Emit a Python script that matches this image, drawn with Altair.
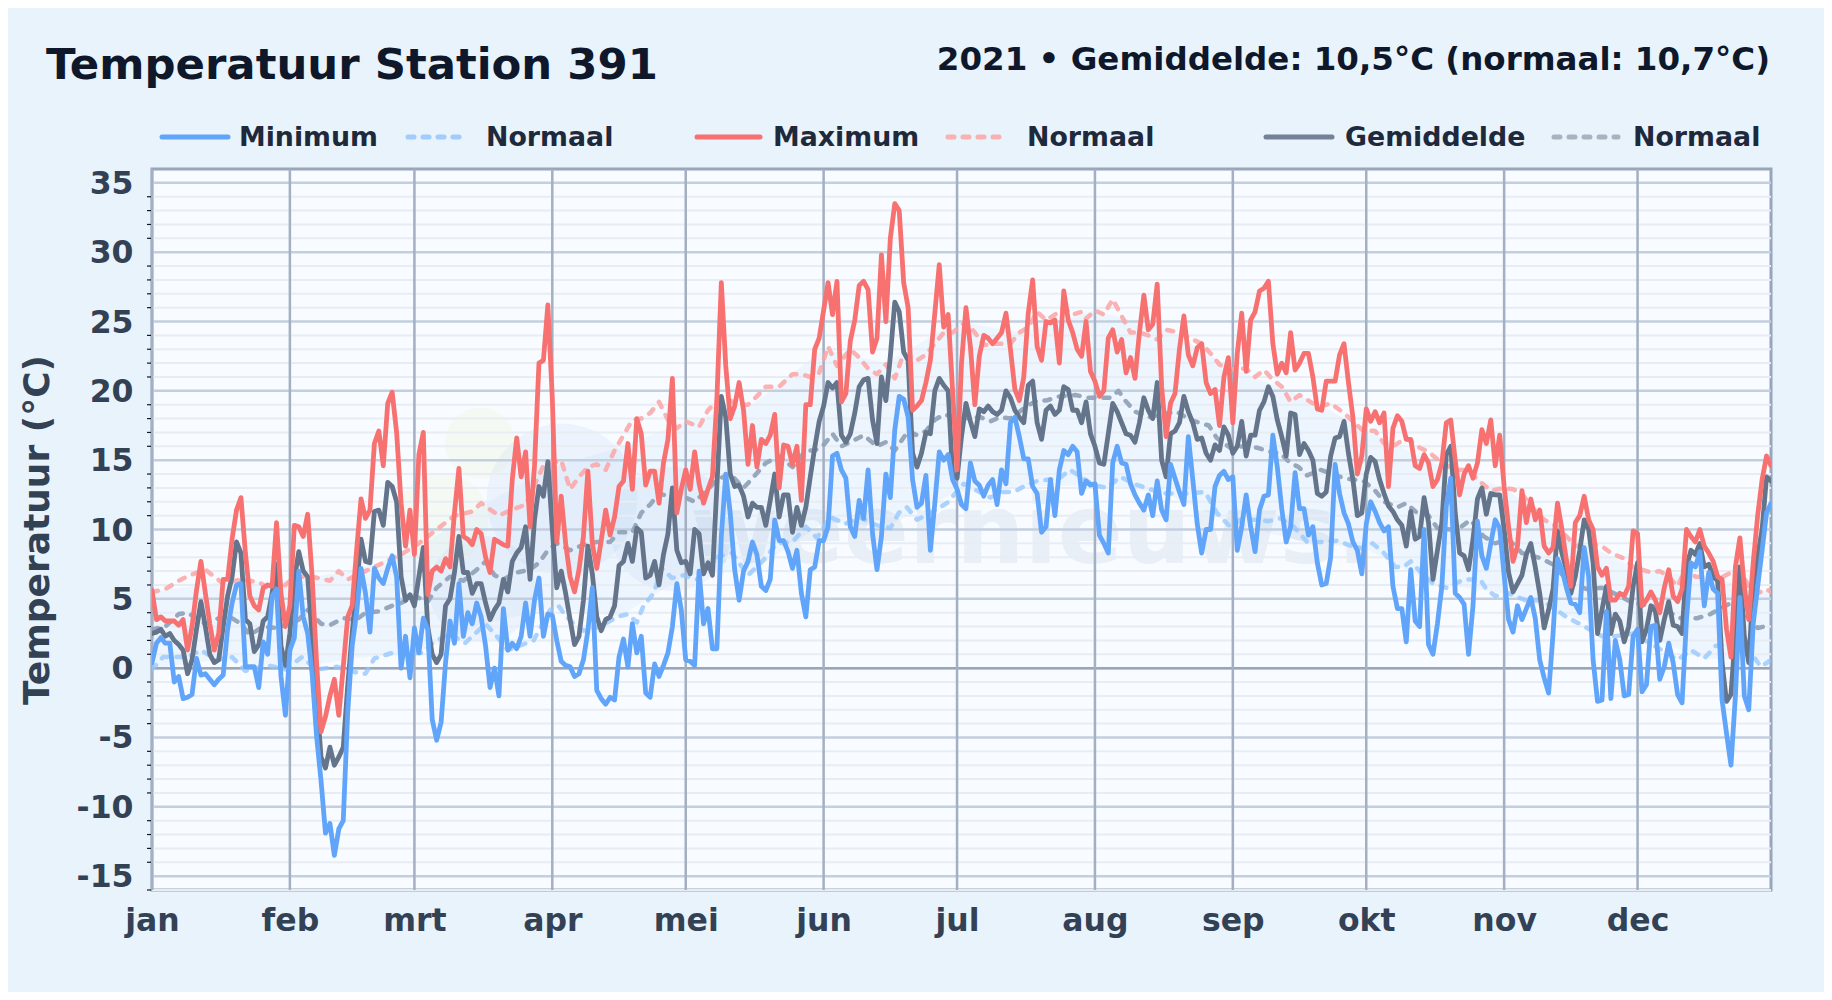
import altair as alt
import pandas as pd

# ---------- labels ----------
month_starts = [0, 31, 59, 90, 120, 151, 181, 212, 243, 273, 304, 334]
month_names = ["jan", "feb", "mrt", "apr", "mei", "jun", "jul", "aug", "sep", "okt", "nov", "dec"]
major_ticks = [-15, -10, -5, 0, 5, 10, 15, 20, 25, 30, 35]
minor_ticks = [v for v in range(-16, 36) if v % 5 != 0]

# ---------- daily series ----------
t_max = [
5.6,3.5,3.7,3.4,3.4,3.4,3.1,3.5,1.3,3,5.6,7.7,5.4,3.2,1.3,2.5,6.4,6.4,9.3,11.4,12.3,8.3,5.2,4.5,4.2,5.8,6,5.9,10.5,5.4,3,
4.5,10.3,10.2,9.5,11.1,6.6,0.4,-4.6,-3.5,-2,-0.8,-3.4,0.1,3.7,4.5,8.5,12.2,10.8,11.4,16.2,17.1,14.6,19.1,19.9,17,11.9,8.8,11.4,
8.2,15.4,17,5.3,7,7.3,7,7.9,7.3,11.2,14.4,9.5,9.3,8.9,10,9.7,8,6.9,9.3,9.1,8.9,8.8,13.6,16.6,13.8,15.6,10.2,14.6,22,22.2,26.2,
19.5,9.1,12.4,9,6.6,5.5,7.1,9.5,14.2,9,7.2,9.2,11.4,9.6,10.9,13.1,13.5,16.2,12.9,18,16.9,13.2,14.2,14.2,11.9,14.8,16.5,20.9,11.2,12.9,
14.3,12.9,15.6,13.3,11.9,12.9,13.8,19.4,27.8,21.8,18,18.9,20.6,18.6,14.7,17.5,14.5,16.5,16.2,16.8,18.3,13,16.1,16,14.7,16,12.1,19,19,23,23.8,
25.8,27.8,25.5,27.9,19.2,19.8,23.6,25.1,27.6,27.9,27.3,22.8,23.8,29.8,25,31,33.5,33,27.8,26,18.6,18.9,19.3,20.6,22.2,25.6,29.1,24.6,25.5,20,
14.3,22,26,23.2,19,22.5,24,23.8,23.4,23.8,24.2,25.6,23,20.1,19.3,21,25.6,28,23.2,22.2,25,24.9,25.1,22,27.2,25.1,24.2,23,22.5,25,21.4,
20.7,19.6,20,23.8,24.4,22.8,23.7,21.3,22.4,20.9,24.2,26.9,24.4,24.8,27.7,20.3,16.7,19.1,19.8,23,25.4,22.6,21.8,23.1,23.4,20.6,19.8,20.1,17.5,21,22.4,
17.7,22.7,25.6,21.4,25.1,25.7,27.2,27.4,27.9,23.4,21.2,22,21.3,24.2,21.5,22,22.7,22.7,21,18.7,18.6,20.7,20.7,20.7,22.6,23.4,20.6,18.1,14,15.3,
18.7,17.8,18.5,17.7,18.4,13.1,17.3,18.2,17.8,16.5,16.5,14.6,14.4,15.4,14.8,13.1,13.6,14.8,17.7,17.9,15,12.5,14,14.6,13.7,14.8,17.2,16.2,17.9,14.6,16.8,
13.1,10.2,7.7,8.8,12.8,10.5,12.2,10.7,11.4,8.8,8.3,8.7,11.9,10,7.8,5.9,10.5,11,12.4,10.7,10,7.3,6.7,7.2,4.9,4.9,5.4,5.2,5.9,9.9,9.7,
4.5,4.9,5.5,4.9,4,5.8,7.1,5.2,4.8,5.7,10,9.5,9.1,10,8.8,8.3,7.7,6.6,6.4,2.8,0.8,7.3,9.4,5.9,3.5,7.6,11,13.6,15.3,14.6]

t_avg = [
2.5,2.6,2.8,2.3,2.5,2,1.7,1.3,-0.4,0.6,2.8,4.8,3,1,0.4,0.6,3,5.2,6.6,9.1,8.3,3.5,3.2,1.2,1.7,3.4,3.7,5.4,7.5,1.6,0.2,
2.5,6.4,8.4,7,6.6,2.3,-2,-6.4,-7.2,-5.7,-7,-6.4,-5.7,-1.3,2.5,5.9,9.3,7.7,7.6,11.3,11.4,10.3,13.4,13.1,12,6.6,4.9,5.3,
4.5,6.6,8.7,3,1,0.4,1,4.5,5,6.9,9.5,6.9,6.9,5.4,6.1,6.1,4.7,3.5,4.2,4.7,6.4,5.5,7.7,8.3,8.7,10.2,6.4,10.7,13.1,12.4,14.9,
10,5.8,7,5.4,3.5,1.7,2.3,4.9,8.8,6.8,3.7,2.7,3.5,3.7,4.5,7.4,7.7,9,7.7,10.1,9.8,6.5,6.7,7.7,6,8.2,9.7,13,8.5,7.6,
7.7,6.8,10,9.7,6.8,7.6,6.7,13.1,19.6,18.1,14,13.1,13.2,12.4,10.9,11.9,11.6,11.6,10.3,12.1,14,10.9,12.5,12.5,9.8,11.6,10.3,11.6,13.8,15.9,17.8,
18.9,20.6,20.2,20.6,16.8,16.3,16.9,18.4,20.3,20.8,20.9,17.9,16.2,21,19.3,22.5,26.4,25.7,22.8,22.2,15.5,14.5,15.5,17,16.9,20,20.9,20.4,20,14,
13.7,16.7,19.1,17.8,16.7,18.7,18.5,18.9,18.5,18.3,18.6,20,19.5,18.6,18.1,17.7,20.4,20.7,17.7,16.5,18.6,18.9,18.3,18.6,20.3,20.1,18.6,18.6,17.7,19.2,16.9,
16,14.8,14.7,16.9,19.1,18.5,17.7,16.9,16.8,16.3,17.7,19.5,18.6,18,20.6,15,13.8,16.9,17.1,17.7,19.6,18.5,17.7,16.5,16.6,15.5,15,16.1,15.7,17.4,16.8,
15.5,16,17.8,15.3,16.8,16.8,18.6,19.2,20.3,19.6,17.9,16.7,15.3,18.4,18.3,15.4,16.2,15.7,15,12.6,12.4,12.7,15.3,16.6,16.7,17.8,15.5,13.6,11,11.2,
14,15.2,14.9,13.6,12.6,11.7,11.3,10.7,10.3,8.8,11.3,9.3,9.5,12.3,10.5,6.4,8.5,10.5,15.4,16,11.2,8.3,8.1,7.1,9.3,12.2,13,11.1,12.6,12.5,12.5,
10,6.9,5.5,6.1,6.7,8.2,9,7.3,5.4,2.9,4.2,5.7,9.9,8.3,7.1,5.4,6.6,8.5,10.7,10,7.6,2.5,4.2,5.9,2.5,3.9,3.4,1.9,3,5.9,7.6,
1.9,2.8,4.5,4.1,2,3.5,4.8,3.1,3,2.5,7.3,8.5,8.2,9,7.3,7.5,6.6,6.3,0.4,-2.4,-1.9,2.5,7.3,2.3,0.4,5.9,8.1,10,13.8,13.5]

t_min = [
0.4,1.8,2.2,1.8,1.8,-1,-0.6,-2.2,-2.1,-1.9,0.7,-0.5,-0.4,-0.8,-1.2,-0.8,-0.5,2.8,4.7,6,6.1,0.1,0.1,0.1,-1.4,1.9,1,5.2,5.7,-0.6,-3.4,
1.3,2.2,7,3.7,2.5,-0.4,-4.9,-8.1,-11.9,-11.2,-13.5,-11.6,-11,-3.2,1.6,4,7.2,5.4,2.6,7.2,6.5,6.1,7.2,8.1,6.6,0,2.3,-0.7,
2.9,1.1,3.6,2.8,-3.7,-5.2,-3.9,0.4,3.4,1.8,6.1,2.3,4,3.2,4.7,3.7,1.6,-1.4,0,-2,4.3,1.3,1.8,1.4,2.3,4.7,2.3,4.9,6.5,2.3,3.9,
3.8,2,0.5,0.2,0.1,-0.6,-0.4,0.6,2.7,5.8,-1.6,-2.2,-2.6,-2.1,-2.3,0.8,2.1,0.1,3.2,1.1,2.3,-1.8,-2.1,0.3,-0.6,0.2,1.1,3,6.1,4.2,
0.6,0.5,0.2,7,3.2,4.3,1.4,1.4,9.5,14,11.2,7.1,4.9,7,7.7,9.1,8.2,5.9,5.6,6.4,10.7,9.2,9.2,8.4,7.2,8.5,5.4,3.7,7.1,7.3,9.2,
9.2,10.2,15.3,15.5,14.3,13.7,10.2,9.5,12.1,10.8,14.3,9.7,7.1,9.5,14,12.3,17.2,19.6,19.4,18.1,13.6,11.6,11.9,13.9,8.5,11.9,15.6,15,15.4,13.6,
12.9,11.8,11.5,14.8,13.5,13.2,12.4,13.2,13.6,11.8,14.3,13.3,17.7,18.1,16.7,15.1,15.1,13.1,12.6,9.8,10.2,13.6,11,14.3,15.7,15.4,16,15.6,12.6,13.5,13.2,
13.3,9.6,9,8.3,14.8,16,14.8,14.7,13.3,12.5,11.9,11.4,12.5,11,13.5,11.4,10.7,14.7,13.7,12.7,11.8,16.7,13.6,10.4,8.3,10,10,13.1,13.9,14.2,13.6,
13.8,8.5,10.2,12.5,10.2,8.4,11.4,12.4,12.5,16.8,14.5,11.5,9.1,10.2,14.1,11.5,11.5,9.6,10.2,7.6,6,6.1,8,14.7,12.6,11.2,10.4,9.1,8.5,6.8,
10.4,12,11.3,10.5,9.9,10.2,5.9,4.3,4.3,1.9,7.1,3.4,3,10,1.7,1,3.2,5.9,11.7,13.7,5.4,5.1,4.6,1,4.5,10.6,8.1,7.2,9,10.7,10.1,
6.7,3.5,2.6,4.5,3.5,4.3,5.1,3.6,0.6,-0.7,-1.8,2.5,7.9,7.1,5.8,4.7,4.6,4,8.7,6.6,0.6,-2.4,-2.3,4.1,-2.2,2,0.6,-2,-1.9,2.3,2.8,
-1.7,-1.2,3,3.1,-0.8,0.1,1.8,0.4,-1.9,-2.5,3.5,7.6,7.3,8.4,4.5,6.9,5.7,5.4,-2.3,-4.7,-7,-2,5.1,-2,-3,3.2,5.9,8.5,11.2,11.9]

# ---------- normals (read at irregular days) ----------
nmax_days = [0,3,6,8.5,12,16,20,24,28,32,36,40,42,44,48,52,56,60,64,68,72,74,78,80,84,88,92,94,96,98,100,102,104,108,110,112,114,116,118,120,123,125,128,132,134,136,138,141,144,146,148,150,152,154,157,159,161,163,165,167,169,172,174,178,180,183,185,187,189,193,195,197,199,201,203,205,207,209,210,212,214,216,218,220,222,224,226,228,231,234,236,238,240,242,244,246,248,250,252,254,256,258,261,263,265,268,272,275,277,279,282,285,287,290,293,296,298,301,304,306,308,310,313,316,318,320,323,326,328,331,333,335,337,339,341,343,345,347,350,352,355,357,359,361,363,364]
nmax_vals = [5.5,5.7,6.3,6.7,7.1,6.1,6.4,6.2,5.4,6.6,6.6,6.3,7,6.4,7,7.6,8.2,9,10,11,11.3,11.9,11,11.3,11.8,14.6,15,12.9,13.8,14.5,14.7,14.3,15.7,17.9,18,18.4,19.2,17.9,17.3,17.8,17.4,18.6,19.6,19,19,19.6,20.3,20.3,21.2,21.2,21,21.3,23.2,21.8,23,22.4,21.6,21.2,21.9,20.9,22.7,22.2,22.6,24.2,24.2,25,24.2,23.3,23.4,23.4,24.2,24.6,25.7,25.1,25.5,26,25.5,25.7,25.2,25.8,25.5,26.6,25.4,24.2,24.2,24,23.7,24.4,24.2,23.7,23.4,22.7,21.9,21.5,21.6,21.6,21,21.5,20.8,20.3,19.2,19.7,19.1,18.9,19.1,18.4,17.2,17.1,16.2,16,16.6,15.9,15.6,14.8,14.3,14.3,13.6,12.8,13,12.9,12.6,11.7,10.7,10.2,9.5,8.8,9,8.8,8.3,7.9,7.3,7.1,6.9,7,6.6,5.9,7.3,6.6,6.6,6.4,6.9,7.1,5.9,5.4,5.7,5.5]

navg_days = [0,3,6,8,12,15,18,20,22,25,28,33,35,38,40,43,46,48,51,54,56,59,62,64,67,70,73,75,77,79,82,85,87,89,91,94,97,100,103,105,108,110,112,114,117,120,122,125,127,130,133,135,138,141,144,147,149,151,153,155,157,160,163,165,167,170,172,174,176,178,182,186.2,188.5,190.7,193,196.7,199,201,204,207.6,210.6,215.4,217.3,218.8,221,224.4,226.7,230.4,233.4,237.6,239.4,242.4,245.4,248.4,251.4,253.7,255.9,257.8,259.7,262.7,268,272.4,275,277,280,282,284.4,287,289,292,294,296.4,299.4,302,305,308,312.5,314.8,319,322.6,326,328.7,333,337,340,343.7,347.4,350.4,355,358,361,364]
navg_vals = [2.8,3,3.9,4,3.2,3.6,3.6,3.2,2.4,3,2.9,3.5,4.2,3.2,3.1,3.6,3.5,4,4.1,4.5,4.7,5.2,4.8,5.8,6.6,6.3,7.1,7.7,6.7,6.4,6.9,7.1,7.6,8.5,9,8.5,8.9,9.1,9.1,9.8,9.8,11.2,11.8,12.6,12.3,12.3,12,12.9,13.6,14,13,13.7,14.8,15.3,14.5,15.7,15.7,16.1,16.9,16,16.3,16.8,16,16.3,15.7,17.1,16.8,17.1,17.9,18.3,18,18.1,17.8,18.1,18,18.9,19.3,19.3,19.6,19.7,19.5,19.5,20,19.3,18.5,18.1,18.3,18.5,17.9,17.5,16.6,15.9,16,15.9,15.6,15.5,14.8,14.5,13.9,14.3,13.7,13.5,12.8,12,11.6,11.9,11.2,11,10.1,10,10.1,10.7,9.5,9,9.3,8.3,7.9,7.5,6.1,5.7,5.8,5.4,4.7,4.5,4.2,3.6,3.6,3.9,4.7,4,2.9,3.1]

nmin_days = [0,2.5,5,8,11,14.5,18,21,26,30,33.7,37,41.5,47,48,50,54,61,63,67,70.4,72,75,77.5,80,85.8,89.5,91.4,92.9,94.8,97,100.8,104.5,107,109,110.5,112.8,114.6,116.9,119.5,122.5,127,130.4,134,137.5,140.5,144,147,149.5,152.5,155.9,159,162.9,166,167.9,169.7,172,175,178.7,182.5,188.5,190.7,193.7,196,199,204,206.4,211.7,214.7,217.7,220.7,224.4,228,232.7,236.8,239.4,242.4,244.7,248.4,251,253.7,256.7,259.7,263.4,266.4,269.8,272.8,274.4,277,279.5,281.4,283,285,288,291,295,298.6,300,302,305,308.8,312.5,318,321.5,326,329,333,340,343,346,349,351.5,355,359.5,361.7,363.6]
nmin_vals = [-0.1,0.8,0.8,0.8,1.3,0.6,0.8,-0.2,0.2,-0.1,0.8,-0.1,0.1,-0.4,-0.4,0.7,1.1,1.1,1.8,2.5,1.8,2.3,3.2,2.3,1.3,2,4.2,4.5,3.8,3.2,2.7,3,3.7,3.9,3.3,4.5,5.4,7.2,6.5,6.7,6.4,8,8.3,6.7,7.8,9,9.1,10.2,9.4,10.9,10.4,10.9,10.3,10.1,11.2,11.6,10.7,11.2,11.9,13.3,12.3,12.7,12.7,13.1,13.5,13.7,14.3,13.2,13,13.8,13.3,12.9,12.6,12.6,12.7,11.2,10.2,10.7,10.7,10.6,10.8,10.2,9.1,9.1,9.2,8.8,8.6,9,8.3,7.3,7.3,7.7,7,6.1,5.8,6.4,6.4,5.7,5.2,5.4,4.9,4.9,3.7,3.1,2.3,2.3,2.5,1.2,0.6,1.3,0.7,1.6,1.8,1.1,0.1,0.5]

# faint band between the normals
band_days = [0,15,31,45,59,75,90,105,120,135,151,165,181,196,212,228,243,258,273,288,304,319,334,349,364]
band_low = [0,0.6,0,0.7,1.1,3.2,4.4,3.7,6.7,7,10.5,10.2,12.7,13.1,13.2,12.6,10.4,9.2,8.6,6.1,5.4,3.7,2.5,0.7,0.5]
band_high = [5.5,6.2,6.3,7,8.5,11.9,14.5,15.9,17.8,19,23,22,25,24.2,25.8,24.4,21.6,19.7,17.2,14.8,13,9.5,7.1,6.6,5.5]

# ---------- text ----------
title_text = "Temperatuur Station 391"
subtitle_text = "2021 • Gemiddelde: 10,5°C (normaal: 10,7°C)"
watermark_text = "weernieuws."
y_title = "Temperatuur (°C)"

FONT = "DejaVu Sans"
BLUE, RED, GRAY = "#60a5fa", "#f87171", "#64748b"
X = alt.Scale(domain=[0, 364], nice=False, zero=False)
Y = alt.Scale(domain=[-16, 36], nice=False, zero=False)

x_axis = alt.Axis(
    values=month_starts, labelFontSize=31.5, labelFont=FONT, labelFontWeight="bold",
    labelColor="#334155", tickSize=0, domain=False, grid=False, labelPadding=15,
    labelExpr="['jan','feb','mrt','apr','mei','jun','jul','aug','sep','okt','nov','dec'][indexof([0,31,59,90,120,151,181,212,243,273,304,334], datum.value)]",
    labelFlush=False, labelOverlap=False, title=None,
)
y_axis = alt.Axis(
    values=major_ticks, labelFontSize=31.5, labelFont=FONT, labelFontWeight="bold",
    labelColor="#334155", tickSize=0, domain=False, grid=False, labelPadding=19,
    labelExpr="'' + datum.value", labelOffset=1.5,
    title=y_title, titleFont=FONT, titleFontSize=36, titleFontWeight="bold",
    titleColor="#334155", titlePadding=20, labelOverlap=False,
)

def xq(field="day"):
    return alt.X(f"{field}:Q", scale=X, axis=x_axis)

def yq(field="v"):
    return alt.Y(f"{field}:Q", scale=Y, axis=y_axis)

def text_mark(txt, x, y, size, color, align="left", baseline="alphabetic", opacity=1.0):
    return alt.Chart(pd.DataFrame({"t": [txt]})).mark_text(
        font=FONT, fontWeight="bold", fontSize=size, color=color,
        align=align, baseline=baseline, opacity=opacity, clip=False
    ).encode(x=alt.value(x), y=alt.value(y), text="t:N")

def series(days, vals, color, width, dash=None, opacity=1.0):
    kw = {"strokeDash": dash} if dash else {}
    return alt.Chart(pd.DataFrame({"day": days, "v": vals})).mark_line(
        color=color, strokeWidth=width, opacity=opacity, strokeJoin="round",
        strokeCap="round", interpolate="linear", clip=True, **kw
    ).encode(x=xq(), y=yq())

def legend_line(x0, x1, color, dash=None, opacity=1.0, width=5):
    kw = {"strokeDash": dash} if dash else {}
    return alt.Chart(pd.DataFrame({"a": [0]})).mark_rule(
        color=color, strokeWidth=width, opacity=opacity, strokeCap="round", **kw
    ).encode(x=alt.value(x0), x2=alt.value(x1), y=alt.value(-32))

days = list(range(365))

minor_grid = alt.Chart(pd.DataFrame({"v": minor_ticks})).mark_rule(color="#e8edf4", strokeWidth=2).encode(y=yq())
major_grid = alt.Chart(pd.DataFrame({"v": major_ticks})).mark_rule(color="#c3cfdf", strokeWidth=2.5).encode(y=yq())
zero_line = alt.Chart(pd.DataFrame({"v": [0]})).mark_rule(color="#98a6ba", strokeWidth=2.5).encode(y=yq())
month_grid = alt.Chart(pd.DataFrame({"day": month_starts})).mark_rule(color="#a3afc2", strokeWidth=2.5).encode(x=xq())
minor_marks = alt.Chart(pd.DataFrame({"v": minor_ticks})).mark_rule(color="#111827", strokeWidth=1.2).encode(
    y=yq(), x=alt.value(-5), x2=alt.value(-1)
)

band = alt.Chart(pd.DataFrame({"day": band_days, "lo": band_low, "hi": band_high})).mark_area(
    color="#60a5fa", opacity=0.07
).encode(x=xq(), y=yq("hi"), y2="lo:Q")

blob_x = [328, 290, 410, 520, 330]
blob_y = [274, 350, 330, 360, 420]
blob_r = [40, 52, 85, 70, 60]
blob_c = ["#dff0a8", "#dff0a8", "#9cc4ea", "#9cc4ea", "#9cc4ea"]
blobs = [
    alt.Chart(pd.DataFrame({"a": [0]})).mark_circle(color=c, opacity=0.13).encode(
        x=alt.value(bx), y=alt.value(by), size=alt.value(3.14 * r * r)
    )
    for bx, by, r, c in zip(blob_x, blob_y, blob_r, blob_c)
]

watermark = text_mark(watermark_text, 538, 394, 96, "#5b7ba6", opacity=0.09)

DASH = [6, 9]
layers = [
    band, *blobs, watermark, minor_grid, major_grid, zero_line, month_grid, minor_marks,
    series(nmin_days, nmin_vals, "#93c5fd", 4.5, DASH, 0.75),
    series(nmax_days, nmax_vals, "#fca5a5", 4.5, DASH, 0.85),
    series(navg_days, navg_vals, "#94a3b8", 4.5, DASH, 0.95),
    series(days, t_avg, GRAY, 4.8),
    series(days, t_max, RED, 4.8),
    series(days, t_min, BLUE, 4.8),
    text_mark(title_text, -106, -90, 43.4, "#0f172a"),
    text_mark(subtitle_text, 1618, -99, 32.5, "#0f172a", align="right"),
    legend_line(10, 76, BLUE),
    text_mark("Minimum", 87, -31, 26.8, "#1e293b", baseline="middle"),
    legend_line(256, 312, "#93c5fd", DASH, 0.85),
    text_mark("Normaal", 334, -31, 26.8, "#1e293b", baseline="middle"),
    legend_line(545, 608, RED),
    text_mark("Maximum", 621, -31, 26.8, "#1e293b", baseline="middle"),
    legend_line(796, 853, "#fca5a5", DASH, 0.85),
    text_mark("Normaal", 875, -31, 26.8, "#1e293b", baseline="middle"),
    legend_line(1114, 1180, "#748299"),
    text_mark("Gemiddelde", 1193, -31, 26.8, "#1e293b", baseline="middle"),
    legend_line(1402, 1466, "#a8b3c2", DASH),
    text_mark("Normaal", 1481, -31, 26.8, "#1e293b", baseline="middle"),
]

chart = alt.layer(*layers).resolve_scale(x="shared", y="shared").properties(
    width=1619, height=721, background="#e8f3fc",
    padding={"left": 144, "top": 161, "right": 53, "bottom": 102},
    autosize=alt.AutoSizeParams(type="none"),
).configure_view(fill="#f8fbff", stroke="#98a6ba", strokeWidth=3)

chart.save("out.html", embed_options={"renderer": "svg", "actions": False})
